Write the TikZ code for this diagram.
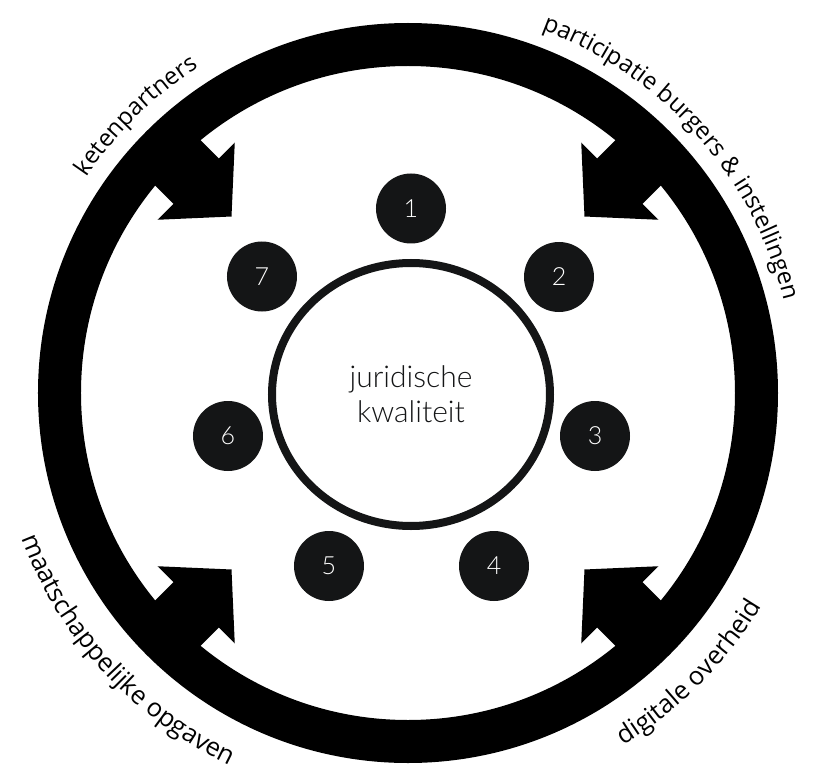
\documentclass[tikz,border=0pt]{standalone}
\usepackage{fontspec}
\setmainfont{Open Sans}
\newfontfamily\lightfont{Lato Light}
\usetikzlibrary{decorations.text}
\definecolor{dotgray}{HTML}{141516}
\newcommand\lblfont{\fontsize{24}{28}\selectfont}
\newcommand\lblfontb{\fontsize{25.5}{28}\selectfont}
\begin{document}
\begin{tikzpicture}[x=1pt,y=1pt,
  numdot/.style={circle, fill=dotgray, minimum size=70pt, inner sep=0pt, text=white,
    font=\lightfont\fontsize{25}{25}\selectfont},
  centertext/.style={anchor=base, font=\lightfont\fontsize{30}{35}\selectfont, text=dotgray},
  arrowshape/.style={fill=black},
  ringlabel/.style={decorate, decoration={text along path, text align=center, text={#1}}}]
\useasboundingbox (-408,-373) rectangle (406,393);
\fill[white] (-408,-373) rectangle (406,393);
% outer ring
\draw[line width=43pt] (0,0) circle [radius=348.5pt];
% four arrows pointing inward
\foreach \a in {45,135,225,315}
  \fill[arrowshape, rotate=\a] (345,-32) -- (299.5,-32) -- (299.5,-54.5) -- (249.6,0)
    -- (299.5,54.5) -- (299.5,32) -- (345,32) -- cycle;
% inner ring
\draw[line width=8pt, draw=dotgray] (3,-1.5) ellipse [x radius=139pt, y radius=131.5pt];
\node[centertext] (juri) at (3,6) {juridische};
\node[centertext] (kwal) at (3,-29) {kwaliteit};
% numbered dots
\node[numdot] (n1) at (3,184.5) {1};
\node[numdot] (n2) at (151,116) {2};
\node[numdot] (n3) at (187,-43) {3};
\node[numdot] (n4) at (86,-173) {4};
\node[numdot] (n5) at (-79,-173) {5};
\node[numdot] (n6) at (-180,-43) {6};
\node[numdot] (n7) at (-146,116.5) {7};
% ring labels
\path[ringlabel={|\lblfont|ketenpartners}] (174.4:387pt) arc[start angle=174.4, end angle=94.4, radius=387pt];
\path[ringlabel={|\lblfont|participatie burgers {\&} instellingen}] (101.8:387pt) arc[start angle=101.8, end angle=-18.2, radius=387pt];
\path[ringlabel={|\lblfontb|maatschappelijke opgaven}] (182.5:413pt) arc[start angle=182.5, end angle=262.5, radius=413pt];
\path[ringlabel={|\lblfontb|digitale overheid}] (275.2:413pt) arc[start angle=275.2, end angle=355.2, radius=413pt];
\end{tikzpicture}
\end{document}
